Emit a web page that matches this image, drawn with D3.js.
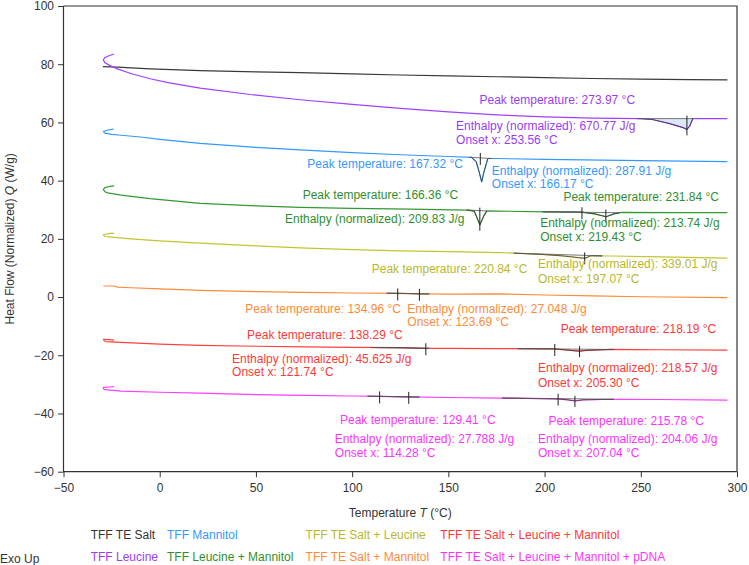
<!DOCTYPE html>
<html><head><meta charset="utf-8">
<script src="https://cdn.jsdelivr.net/npm/d3@7"></script>
<style>
body{margin:0;background:#fff;}
svg{font-family:"Liberation Sans",Arial,sans-serif;}
</style></head>
<body><svg id="c" width="749" height="565"></svg>
<script>
// ---------- DATA ----------
const seriesNames = ["TFF TE Salt","TFF Leucine","TFF Mannitol","TFF Leucine + Mannitol",
  "TFF TE Salt + Leucine","TFF TE Salt + Mannitol","TFF TE Salt + Leucine + Mannitol",
  "TFF TE Salt + Leucine + Mannitol + pDNA"];

// [temperature °C, heat flow W/g]
const tffTeSalt = [[-29.5,79.2],[-22,79.0],[-5,78.4],[21,77.8],[50,77.4],[73,77.1],[100,76.7],[125,76.3],[150,76.0],[175,75.7],[200,75.4],[225,75.1],[250,74.9],[275,74.7],[295,74.6]];
const tffLeucine = [[-23.7,83.5],[-26,83.0],[-28.5,82.3],[-29.3,81.5],[-28.5,80.5],[-26,79.6],[-22,78.4],[-15,76.8],[-5,75.0],[5,73.6],[21,71.8],[47,69.6],[73,67.8],[100,66.2],[125,64.8],[150,63.6],[175,62.6],[200,61.9],[225,61.5],[250,61.3],[256,61.0],[265,59.6],[272,58.2],[274,57.6],[275.5,58.8],[277,61.3],[285,61.3],[295,61.3]];
const tffMannitol = [[-24,57.7],[-27,57.4],[-29.3,56.9],[-28.5,56.3],[-25,55.9],[-20,55.6],[-10,55.0],[0,54.2],[21,52.8],[50,51.4],[73,50.6],[100,49.6],[125,48.9],[150,48.3],[162,48.0],[164.5,46.5],[166,43.0],[167.3,39.6],[168.5,43.0],[170.5,47.6],[175,47.6],[200,47.3],[250,46.9],[295,46.5]];
const tffLeucineMannitol = [[-23.7,38.2],[-26,38.0],[-28.5,37.6],[-29.3,37.0],[-28.5,36.2],[-27,35.8],[-20,35.0],[-5,33.8],[21,32.2],[50,31.3],[73,30.8],[100,30.5],[130,30.2],[160,29.9],[163.5,29.5],[166.4,24.8],[168.5,28.0],[170,29.6],[200,29.3],[219,29.2],[226,28.6],[232,27.6],[236,28.6],[240,29.1],[270,29.0],[295,29.0]];
const tffTeSaltLeucine = [[-23.7,21.9],[-26,21.9],[-29.3,21.4],[-28.5,20.8],[-25,20.6],[-15,20.0],[0,19.3],[21,18.5],[50,17.6],[73,16.9],[100,16.3],[125,15.9],[150,15.6],[177,15.3],[190,14.9],[200,14.6],[210,14.1],[221,13.3],[224,14.2],[235,14.1],[260,13.8],[295,13.4]];
const tffTeSaltMannitol = [[-29.3,3.8],[-23.7,3.8],[-22,3.4],[-15,3.2],[0,2.8],[21,2.3],[50,1.9],[75,1.6],[100,1.4],[124,1.3],[135,1.1],[150,1.0],[177,1.1],[200,0.7],[225,0.4],[250,0.1],[295,-0.2]];
const tffTeSaltLeucineMannitol = [[-23.7,-14.8],[-26,-14.6],[-29.3,-14.5],[-28.8,-15.0],[-28,-15.3],[-20,-15.6],[0,-16.2],[21,-16.6],[50,-16.9],[75,-17.1],[100,-17.3],[125,-17.4],[138,-17.6],[150,-17.6],[175,-17.7],[205,-17.8],[212,-18.2],[218,-18.6],[222,-18.3],[235,-18.0],[260,-18.1],[295,-18.2]];
const tffPDNA = [[-23.7,-30.8],[-26,-30.9],[-29.3,-31.0],[-29,-31.7],[-27,-31.9],[-20,-32.3],[0,-32.7],[21,-33.0],[50,-33.5],[75,-33.8],[100,-34.0],[114,-34.1],[129,-34.3],[150,-34.5],[178,-34.7],[207,-35.0],[212,-35.3],[215.8,-35.7],[220,-35.3],[236,-35.1],[260,-35.2],[295,-35.4]];

const seriesData = [tffTeSalt,tffLeucine,tffMannitol,tffLeucineMannitol,tffTeSaltLeucine,tffTeSaltMannitol,tffTeSaltLeucineMannitol,tffPDNA];

const xTicksMajor = [-50,0,50,100,150,200,250,300];
const yTicksMajor = [-60,-40,-20,0,20,40,60,80,100];

// integration ranges [series, start, end]
const peakRanges = [[1,248,277.5],[2,161,172.5],[3,159.6,170],[3,199,239],[4,184,230],[5,118,140],[6,110,140],[6,186,236],[7,108,135],[7,178,236]];
// onset / peak markers [series, temperature, reaches peak bottom (1) or not (0)]
const peakMarkers = [[1,273.97,1],[2,166.6,0],[3,166.36,1],[3,219.43,0],[3,231.84,1],[4,220.84,1],[5,123.69,0],[5,134.96,0],[6,138.29,0],[6,205.30,0],[6,218.19,1],[7,114.28,0],[7,129.41,0],[7,207.04,0],[7,215.78,1]];

// annotation texts [series, text, temperature, heat flow] (anchor = text start / baseline)
const annotations = [
 [1,"Peak temperature: 273.97 °C",166.2,66.5],
 [1,"Enthalpy (normalized): 670.77 J/g",154.0,57.4],
 [1,"Onset x: 253.56 °C",154.0,52.6],
 [2,"Peak temperature: 167.32 °C",76.7,44.2],
 [2,"Enthalpy (normalized): 287.91 J/g",172.6,41.9],
 [2,"Onset x: 166.17 °C",172.6,37.6],
 [3,"Peak temperature: 166.36 °C",74.3,33.7],
 [3,"Peak temperature: 231.84 °C",209.8,33.0],
 [3,"Enthalpy (normalized): 209.83 J/g",65.1,25.4],
 [3,"Enthalpy (normalized): 213.74 J/g",197.7,24.2],
 [3,"Onset x: 219.43 °C",197.7,19.4],
 [4,"Peak temperature: 220.84 °C",110.2,8.2],
 [4,"Enthalpy (normalized): 339.01 J/g",196.6,9.9],
 [4,"Onset x: 197.07 °C",196.6,4.9],
 [5,"Peak temperature: 134.96 °C",44.5,-5.4],
 [5,"Enthalpy (normalized): 27.048 J/g",128.7,-5.4],
 [5,"Onset x: 123.69 °C",128.7,-9.9],
 [6,"Peak temperature: 138.29 °C",45.4,-14.4],
 [6,"Peak temperature: 218.19 °C",208.4,-12.4],
 [6,"Enthalpy (normalized): 45.625 J/g",37.6,-22.5],
 [6,"Onset x: 121.74 °C",37.6,-27.1],
 [6,"Enthalpy (normalized): 218.57 J/g",196.6,-25.9],
 [6,"Onset x: 205.30 °C",196.6,-30.8],
 [7,"Peak temperature: 129.41 °C",93.7,-43.6],
 [7,"Peak temperature: 215.78 °C",202.0,-43.9],
 [7,"Enthalpy (normalized): 27.788 J/g",91.0,-50.1],
 [7,"Onset x: 114.28 °C",91.0,-54.9],
 [7,"Enthalpy (normalized): 204.06 J/g",196.6,-50.1],
 [7,"Onset x: 207.04 °C",196.6,-54.9]
];

// ---------- STYLE ----------
const lineColors = ["#3a3a3a","#a040ff","#3399ff","#339933","#c4c430","#ff8a3a","#ff4040","#ff3cff"];
const textColors = ["#333333","#9a3cf5","#3399ff","#2e8f2e","#b8b82a","#ff8a3a","#ff3838","#ff33ff"];
const axisColor = "#333";

// ---------- CHART ----------
const svg = d3.select("#c");
const x = d3.scaleLinear().domain([-50,300]).range([63.5,737]);
const y = d3.scaleLinear().domain([-60,100]).range([471.7,6]);

// axes
const minorX = d3.range(-50,300.1,12.5).filter(v=>!xTicksMajor.includes(v));
const minorY = d3.range(-60,100.1,4).filter(v=>!yTicksMajor.includes(v));
const gx = svg.append("g").attr("transform",`translate(0,${y(-60)})`);
gx.call(d3.axisBottom(x).tickValues(minorX).tickSize(3.5).tickFormat(""));
gx.call(d3.axisBottom(x).tickValues(xTicksMajor).tickSize(5.5).tickPadding(6).tickFormat(d3.format("d")));
const gy = svg.append("g").attr("transform",`translate(${x(-50)},0)`);
gy.call(d3.axisLeft(y).tickValues(minorY).tickSize(3.5).tickFormat(""));
gy.call(d3.axisLeft(y).tickValues(yTicksMajor).tickSize(5.5).tickPadding(4).tickFormat(d3.format("d")));
[gx,gy].forEach(g=>{
  g.selectAll("path.domain").attr("stroke",axisColor).attr("stroke-width",1.2);
  g.selectAll(".tick line").attr("stroke",axisColor);
  g.selectAll(".tick text").attr("fill","#333").style("font-size","12px").style("font-family",'"Liberation Sans",Arial,sans-serif');
});
gx.selectAll(".domain").attr("d",`M${x(-50)},0H${x(300)}`);
gy.selectAll(".domain").attr("d",`M0,${y(-60)}V${y(100)}`);
// frame top/right
svg.append("path").attr("d",`M${x(-50)},${y(100)}H${x(300)}V${y(-60)}`).attr("fill","none").attr("stroke",axisColor).attr("stroke-width",1.2);

// helpers
function valueAt(data,t){
  for(let i=data.length-1;i>0;i--){
    const a=data[i-1],b=data[i];
    if(b[0]>a[0] && t>=a[0] && t<=b[0]){
      return a[1]+(b[1]-a[1])*(t-a[0])/(b[0]-a[0]);
    }
  }
  return data[data.length-1][1];
}
function portion(data,t0,t1){
  const pts=[[t0,valueAt(data,t0)]];
  data.forEach((p,i)=>{ if(i>0 && p[0]>data[i-1][0] && p[0]>t0 && p[0]<t1) pts.push(p); });
  pts.push([t1,valueAt(data,t1)]);
  return pts;
}
const line = d3.line().x(d=>x(d[0])).y(d=>y(d[1]));

// fill for Leucine peak
{
  const r = peakRanges[0];
  const pts = portion(seriesData[r[0]],r[1],r[2]);
  svg.append("path").attr("d",line(pts)+"Z").attr("fill","#dbe8f5").attr("stroke","none");
}

// curves
seriesData.forEach((d,i)=>{
  svg.append("path").attr("d",line(d)).attr("fill","none")
    .attr("stroke",lineColors[i]).attr("stroke-width",1.2).attr("stroke-linejoin","round");
});

// integration overlays
peakRanges.forEach(r=>{
  const d=seriesData[r[0]];
  const pts=portion(d,r[1],r[2]);
  svg.append("path").attr("d",line(pts)).attr("fill","none").attr("stroke","#3a3a3a").attr("stroke-width",1).attr("opacity",0.75);
  svg.append("path").attr("d",line([pts[0],pts[pts.length-1]])).attr("fill","none").attr("stroke","#555").attr("stroke-width",1).attr("opacity",0.8);
});

// markers
peakMarkers.forEach(m=>{
  const d=seriesData[m[0]];
  const r=peakRanges.find(r=>r[0]===m[0] && m[1]>=r[1] && m[1]<=r[2]);
  if(!r) return;
  const b0=valueAt(d,r[1]), b1=valueAt(d,r[2]);
  const base=b0+(b1-b0)*(m[1]-r[1])/(r[2]-r[1]);
  const cv=valueAt(d,m[1]);
  let yTop, yBot;
  if(m[2]){ yTop=y(base)-3; yBot=Math.max(y(base),y(cv))+6; }
  else { yTop=y(base)-5; yBot=y(base)+7; }
  svg.append("line").attr("x1",x(m[1])).attr("x2",x(m[1])).attr("y1",yTop).attr("y2",yBot)
    .attr("stroke","#222").attr("stroke-width",1);
});

// annotation texts
svg.append("g").selectAll("text").data(annotations).join("text")
  .attr("x",d=>x(d[2])).attr("y",d=>y(d[3]))
  .attr("fill",d=>textColors[d[0]]).style("font-size","12px").text(d=>d[1]);

// axis titles
const yt = svg.append("text").attr("transform",`translate(14,${(y(100)+y(-60))/2}) rotate(-90)`)
  .attr("text-anchor","middle").attr("fill","#333").style("font-size","12px");
yt.append("tspan").text("Heat Flow (Normalized)  ");
yt.append("tspan").attr("font-style","italic").text("Q");
yt.append("tspan").text("  (W/g)");
const xt = svg.append("text").attr("x",(x(-50)+x(300))/2).attr("y",517)
  .attr("text-anchor","middle").attr("fill","#333").style("font-size","12px");
xt.append("tspan").text("Temperature ");
xt.append("tspan").attr("font-style","italic").text("T");
xt.append("tspan").text(" (°C)");

// legend
const legendCols = [90.7,167,305.6,440.3];
const legendOrder = [[0,0,0],[2,1,0],[4,2,0],[6,3,0],[1,0,1],[3,1,1],[5,2,1],[7,3,1]];
legendOrder.forEach(([s,c,r])=>{
  svg.append("text").attr("x",legendCols[c]).attr("y",538.5+r*22.3)
    .attr("fill",textColors[s]).style("font-size","12px").text(seriesNames[s]);
});
svg.append("text").attr("x",0).attr("y",562.5).attr("fill","#333").style("font-size","12px").text("Exo Up");
</script></body></html>
